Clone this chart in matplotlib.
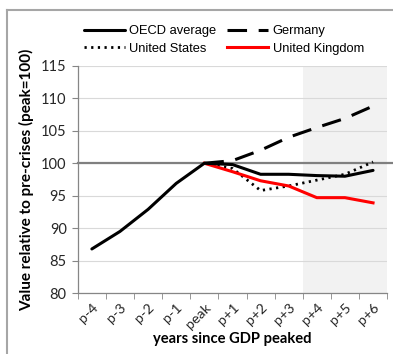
import matplotlib
matplotlib.use("Agg")
import matplotlib.pyplot as plt
from matplotlib.lines import Line2D

# years relative to the GDP peak
periods = ["p-4", "p-3", "p-2", "p-1", "peak", "p+1", "p+2", "p+3", "p+4", "p+5", "p+6"]

# index values, peak = 100
oecd = [86.8, 89.5, 92.9, 96.9, 100.0, 99.8, 98.3, 98.3, 98.1, 98.0, 98.9]
germany = [100.0, 100.4, 102.0, 104.0, 105.5, 106.9, 108.8]
usa = [100.0, 99.2, 95.8, 96.5, 97.4, 98.3, 100.2]
uk = [100.0, 98.7, 97.3, 96.5, 94.7, 94.7, 93.9]

peak_idx = periods.index("peak")
x_all = list(range(len(periods)))
x_after = x_all[peak_idx:]

fig = plt.figure(figsize=(3.93, 3.54), dpi=100)
ax = fig.add_axes([0.198, 0.172, 0.787, 0.642])

axis_font = "Lato"

# shaded forecast years
ax.axvspan(7.5, 10.5, color="#f2f2f2", zorder=0, lw=0)
ax.set_ylim(80, 115)
ax.set_xlim(-0.5, 10.5)
ax.set_yticks(range(80, 116, 5))
ax.yaxis.grid(True, color="#d9d9d9", lw=0.8)
ax.set_axisbelow(True)

# reference line at 100
ax.axhline(100, xmin=0, xmax=1.02, color="#808080", lw=1.6, clip_on=False, zorder=2)

ax.plot(x_all, oecd, color="black", lw=2.2, label="OECD average", zorder=4,
        solid_capstyle="round")
ax.plot(x_after, germany, color="black", lw=2.2, dashes=(6.4, 3.8), label="Germany", zorder=3)
ax.plot(x_after, usa, color="black", lw=2.0, dashes=(0.8, 1.6), label="United States", zorder=3)
ax.plot(x_after, uk, color="#ff0000", lw=2.2, label="United Kingdom", zorder=3)

ax.set_xticks(x_all)
ax.set_xticklabels(periods, rotation=45, ha="right", rotation_mode="anchor",
                   fontsize=10.3, family=axis_font, color="#262626")
ax.set_xticks([i - 0.5 for i in range(len(periods) + 1)], minor=True)
ax.tick_params(axis="x", which="major", length=0, pad=6)
ax.tick_params(axis="x", which="minor", length=4, color="#868686", direction="out")
ax.tick_params(axis="y", length=4, color="#868686", labelsize=10.5, pad=4)
for lab in ax.get_yticklabels():
    lab.set_family(axis_font)
    lab.set_color("#262626")

for side in ["top", "right"]:
    ax.spines[side].set_visible(False)
for side in ["left", "bottom"]:
    ax.spines[side].set_color("#868686")
    ax.spines[side].set_linewidth(0.9)

ax.set_ylabel("Value relative to pre-crises (peak=100)", fontsize=11, fontweight="bold",
              family=axis_font, labelpad=5)
ax.set_xlabel("years since GDP peaked", fontsize=10.6, fontweight="bold",
              family=axis_font, labelpad=1)

h, l = ax.get_legend_handles_labels()
order = [0, 2, 1, 3]
fig.legend([h[i] for i in order], [l[i] for i in order], ncol=2, frameon=False,
           loc="upper left", bbox_to_anchor=(0.183, 0.962), handlelength=3.2,
           handletextpad=0.35, columnspacing=0.8, labelspacing=0.45,
           prop={"family": "Liberation Sans", "size": 9.3})

# outer chart border
fig.add_artist(Line2D([7 / 393, 7 / 393], [0, 1 - 10 / 354], transform=fig.transFigure,
                      color="#a6a6a6", lw=1.5))
fig.add_artist(Line2D([7 / 393, 1], [1 - 10 / 354, 1 - 10 / 354], transform=fig.transFigure,
                      color="#a6a6a6", lw=1.5))

fig.savefig("out.png", dpi=100)
